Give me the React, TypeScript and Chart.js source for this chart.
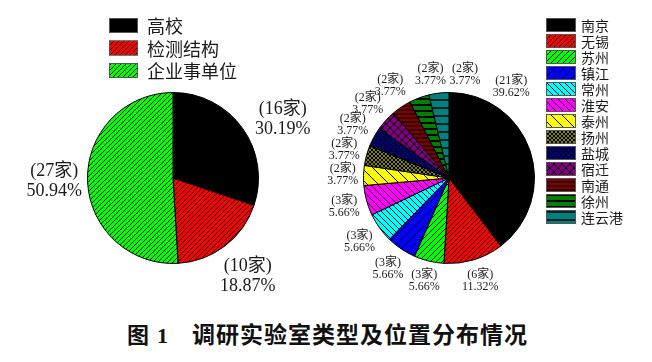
import React, { useEffect, useRef } from 'react';
import { Chart, registerables } from 'chart.js';

Chart.register(...registerables);

// ---- data ----
const typeLabels = ['高校', '检测结构', '企业事单位'];
const typeCounts = [16, 10, 27];

const cityLabels = ['南京', '无锡', '苏州', '镇江', '常州', '淮安', '泰州', '扬州', '盐城', '宿迁', '南通', '徐州', '连云港'];
const cityCounts = [21, 6, 3, 3, 3, 3, 2, 2, 2, 2, 2, 2, 2];

// ---- styles ----
type Hatch = { color: string; kind: 'solid' | 'fwd' | 'back' | 'cross' | 'horiz'; gap: number; lw?: number };

const typeStyles: Hatch[] = [
  { color: '#000000', kind: 'solid', gap: 0 },
  { color: '#ff0000', kind: 'fwd', gap: 5 },
  { color: '#00ff00', kind: 'fwd', gap: 5 },
];

const cityStyles: Hatch[] = [
  { color: '#000000', kind: 'solid', gap: 0 },
  { color: '#ff0000', kind: 'fwd', gap: 5 },
  { color: '#00ff00', kind: 'fwd', gap: 6 },
  { color: '#0000ff', kind: 'fwd', gap: 9 },
  { color: '#00ffff', kind: 'back', gap: 6 },
  { color: '#ff00ff', kind: 'back', gap: 7 },
  { color: '#ffff00', kind: 'back', gap: 11 },
  { color: '#808000', kind: 'cross', gap: 4 },
  { color: '#000080', kind: 'cross', gap: 5 },
  { color: '#800080', kind: 'cross', gap: 8 },
  { color: '#800000', kind: 'horiz', gap: 4, lw: 1.2 },
  { color: '#008000', kind: 'horiz', gap: 6, lw: 2 },
  { color: '#008080', kind: 'horiz', gap: 8, lw: 1.5 },
];

function makePattern(h: Hatch): CanvasPattern | string {
  if (h.kind === 'solid') return h.color;
  const s = h.gap;
  const c = document.createElement('canvas');
  c.width = s;
  c.height = s;
  const g = c.getContext('2d')!;
  g.fillStyle = h.color;
  g.fillRect(0, 0, s, s);
  g.strokeStyle = '#000';
  g.lineWidth = h.lw ?? 1;
  g.beginPath();
  if (h.kind === 'fwd' || h.kind === 'cross') {
    for (const k of [-s, 0, s]) {
      g.moveTo(k, s);
      g.lineTo(k + s, 0);
    }
  }
  if (h.kind === 'back' || h.kind === 'cross') {
    for (const k of [-s, 0, s]) {
      g.moveTo(k, 0);
      g.lineTo(k + s, s);
    }
  }
  if (h.kind === 'horiz') {
    g.moveTo(0, s / 2);
    g.lineTo(s, s / 2);
  }
  g.stroke();
  return g.createPattern(c, 'repeat')!;
}

const CJK_SERIF = '"Liberation Serif", "Noto Sans CJK SC", serif';
const CJK = '"Noto Sans CJK SC", sans-serif';

const pieDecor = {
  id: 'pieDecor',
  afterDraw(chart: any, _args: any, opts: any) {
    const ctx: CanvasRenderingContext2D = chart.ctx;
    const meta = chart.getDatasetMeta(0);
    const ds = chart.data.datasets[0];
    const data = ds.data as number[];
    const bgs = ds.backgroundColor as any[];
    const total = data.reduce((a, b) => a + b, 0);
    ctx.save();
    // slice labels
    ctx.fillStyle = '#1a1a1a';
    ctx.font = `${opts.labelSize}px ${CJK_SERIF}`;
    ctx.textAlign = 'center';
    ctx.textBaseline = 'middle';
    const lh = opts.lineHeight;
    meta.data.forEach((arc: any, i: number) => {
      const p = arc.getProps(['x', 'y', 'startAngle', 'endAngle', 'outerRadius'], true);
      const f = (opts.fractions && opts.fractions[i] != null) ? opts.fractions[i] : 0.5;
      const a = p.startAngle + (p.endAngle - p.startAngle) * f;
      const l1 = `(${data[i]}家)`;
      const l2 = ((data[i] / total) * 100).toFixed(2) + '%';
      const w = Math.max(ctx.measureText(l1).width, ctx.measureText(l2).width);
      const h = lh * 2;
      const d = p.outerRadius + opts.gap + (w / 2) * Math.abs(Math.cos(a)) + (h / 2) * Math.abs(Math.sin(a));
      const cx = p.x + d * Math.cos(a);
      const cy = p.y + d * Math.sin(a);
      ctx.fillText(l1, cx, cy - lh / 2);
      ctx.fillText(l2, cx, cy + lh / 2);
    });
    // legend
    const L = opts.legend;
    ctx.textAlign = 'left';
    ctx.font = `${L.size}px ${CJK}`;
    (chart.data.labels as string[]).forEach((lab, i) => {
      const y = L.y + i * L.pitch;
      ctx.fillStyle = bgs[i];
      ctx.fillRect(L.x, y, L.w, L.h);
      ctx.strokeStyle = '#555';
      ctx.lineWidth = 1;
      ctx.strokeRect(L.x + 0.5, y + 0.5, L.w - 1, L.h - 1);
      ctx.fillStyle = '#1a1a1a';
      ctx.fillText(lab, L.textX, y + L.h / 2 + 1);
    });
    ctx.restore();
  },
};

type PieProps = {
  labels: string[];
  values: number[];
  styles: Hatch[];
  padding: { left: number; right: number; top: number; bottom: number };
  decor: any;
  left: number;
};

function PieCanvas({ labels, values, styles, padding, decor, left }: PieProps) {
  const ref = useRef<HTMLCanvasElement>(null);
  useEffect(() => {
    const chart = new Chart(ref.current!, {
      type: 'pie',
      data: {
        labels,
        datasets: [
          {
            data: values,
            backgroundColor: styles.map(makePattern) as any,
            borderColor: '#000',
            borderWidth: 1,
            hoverOffset: 0,
          },
        ],
      },
      options: {
        responsive: false,
        animation: false,
        events: [],
        layout: { padding },
        plugins: {
          legend: { display: false },
          tooltip: { enabled: false },
          pieDecor: decor,
        } as any,
      },
      plugins: [pieDecor as any],
    });
    return () => chart.destroy();
  }, []);
  return (
    <canvas
      ref={ref}
      width={326}
      height={310}
      style={{ position: 'absolute', left, top: 0, width: 326, height: 310 }}
    />
  );
}

export default function App() {
  return (
    <div style={{ position: 'fixed', left: 0, top: 0, width: 652, height: 362, background: '#fff', overflow: 'hidden' }}>
      <PieCanvas
        labels={typeLabels}
        values={typeCounts}
        styles={typeStyles}
        left={0}
        padding={{ left: 87, right: 67, top: 92, bottom: 46 }}
        decor={{
          labelSize: 18,
          lineHeight: 20,
          gap: 5,
          fractions: { 0: 0.57 },
          legend: { x: 109, y: 18, w: 29, h: 15, pitch: 22.5, textX: 147, size: 18 },
        }}
      />
      <PieCanvas
        labels={cityLabels}
        values={cityCounts}
        styles={cityStyles}
        left={326}
        padding={{ left: 37, right: 117, top: 92, bottom: 46 }}
        decor={{
          labelSize: 12,
          lineHeight: 12,
          gap: 5,
          fractions: { 0: 0.24, 10: 0.6, 11: 1.25, 12: 1.65 },
          legend: { x: 220, y: 18, w: 30, h: 14, pitch: 16, textX: 255, size: 14 },
        }}
      />
      <div
        style={{
          position: 'absolute',
          top: 321,
          left: 127,
          fontFamily: CJK,
          fontWeight: 700,
          fontSize: 22,
          lineHeight: '24px',
          whiteSpace: 'nowrap',
          color: '#111',
        }}
      >
        <span>图</span>
        <span style={{ fontFamily: '"Liberation Serif", serif', marginLeft: 8 }}>1</span>
      </div>
      <div
        style={{
          position: 'absolute',
          top: 321,
          left: 192,
          fontFamily: CJK,
          fontWeight: 700,
          fontSize: 23,
          letterSpacing: 1,
          lineHeight: '24px',
          whiteSpace: 'nowrap',
          color: '#111',
        }}
      >
        调研实验室类型及位置分布情况
      </div>
    </div>
  );
}
